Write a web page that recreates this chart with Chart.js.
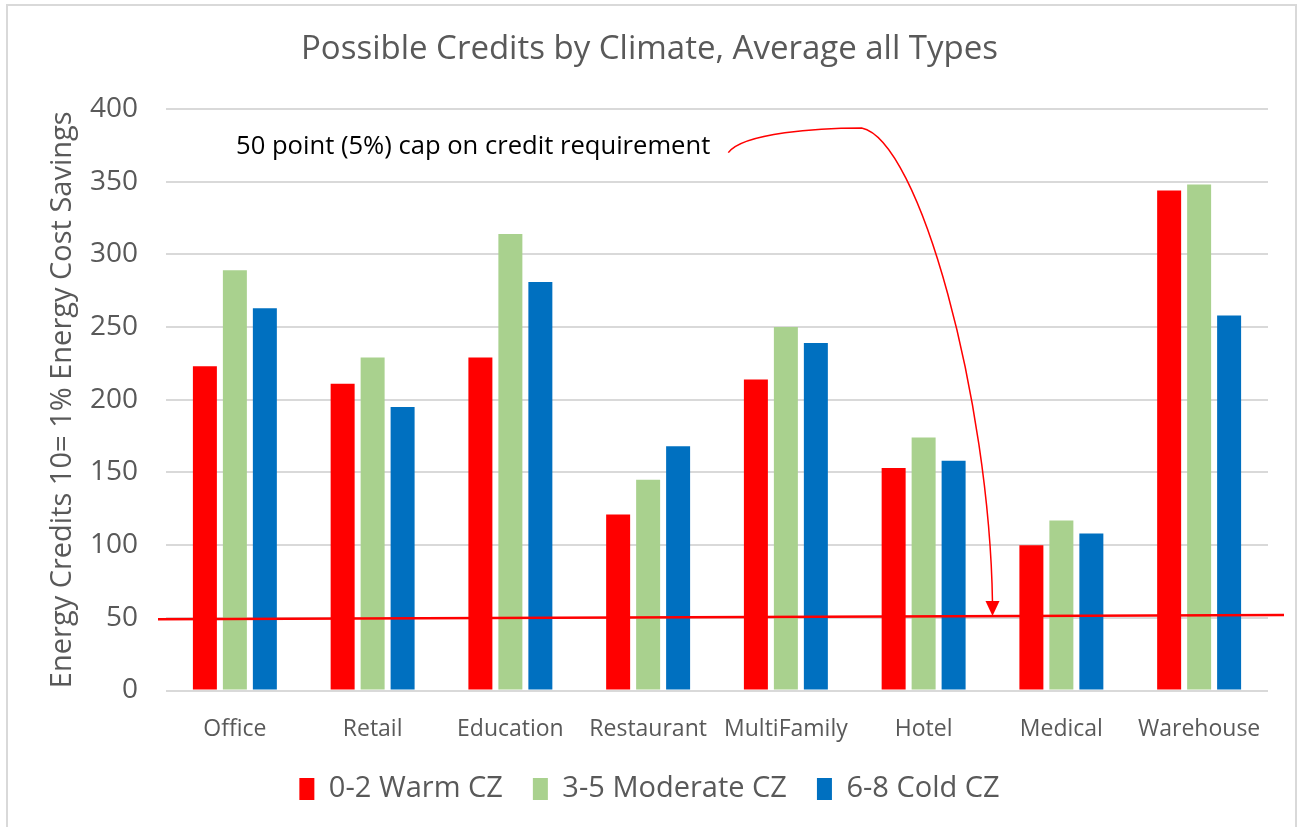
<!DOCTYPE html>
<html><head><meta charset="utf-8">
<script src="https://cdn.jsdelivr.net/npm/chart.js@4.4.0/dist/chart.umd.min.js"></script>
<style>
html,body{margin:0;padding:0;background:#fff;overflow:hidden;}
#wrap{position:absolute;left:0;top:0;width:1299px;height:827px;}
#frame{position:absolute;left:6px;top:4px;width:1287px;height:840px;border:2px solid #d9d9d9;pointer-events:none;}
</style></head><body>
<div id="wrap"><canvas id="c" width="1299" height="827"></canvas></div>
<div id="frame"></div>
<script>
const categories = ['Office','Retail','Education','Restaurant','MultiFamily','Hotel','Medical','Warehouse'];
const seriesLabels = ['0-2 Warm CZ','3-5 Moderate CZ','6-8 Cold CZ'];
const warmValues = [223, 211, 229, 121, 214, 153, 100, 344];
const moderateValues = [289, 229, 314, 145, 250, 174, 117, 348];
const coldValues = [263, 195, 281, 168, 239, 158, 108, 258];
const yTickValues = [0, 50, 100, 150, 200, 250, 300, 350, 400];
const capLineValues = [49, 52];
const capText = '50 point (5%) cap on credit requirement';
const titleText = 'Possible Credits by Climate, Average all Types';
const yTitleText = 'Energy Credits 10= 1% Energy Cost Savings';

const FONT = '"Open Sans", "Noto Sans", sans-serif';
const GRAY = '#595959';

const capPlugin = {
  id: 'capAnnotation',
  afterDatasetsDraw(chart) {
    const {ctx, chartArea: a, scales: {x, y}} = chart;
    ctx.save();
    // hand-drawn cap line
    const x0 = a.left - 8, x1 = a.right + 16;
    const y0 = y.getPixelForValue(capLineValues[0]);
    const y1 = y.getPixelForValue(capLineValues[1]);
    ctx.strokeStyle = '#FF0000';
    ctx.lineWidth = 2.5;
    ctx.beginPath(); ctx.moveTo(x0, y0); ctx.lineTo(x1, y1); ctx.stroke();
    // annotation text
    ctx.font = '25.6px ' + FONT;
    ctx.fillStyle = '#000000';
    ctx.textBaseline = 'middle';
    ctx.textAlign = 'left';
    const tx = a.left + 70, ty = y.getPixelForValue(374);
    ctx.fillText(capText, tx, ty);
    const tw = ctx.measureText(capText).width;
    // arrow
    const sx = tx + tw + 18, sy = y.getPixelForValue(370);
    const px = x.getPixelForValue(4.55), py = y.getPixelForValue(387);
    const tipX = x.getPixelForValue(5.5);
    const tipY = y0 + (y1 - y0) * (tipX - x0) / (x1 - x0);
    ctx.lineWidth = 1.5;
    ctx.beginPath();
    ctx.moveTo(sx, sy);
    ctx.bezierCurveTo(sx + 15, sy - 20, px - 42, py, px, py);
    ctx.bezierCurveTo(px + 58, py + 12, tipX - 3, y.getPixelForValue(200), tipX, tipY - 13);
    ctx.stroke();
    ctx.fillStyle = '#FF0000';
    ctx.beginPath();
    ctx.moveTo(tipX - 7, tipY - 15); ctx.lineTo(tipX + 7, tipY - 15); ctx.lineTo(tipX, tipY); ctx.closePath();
    ctx.fill();
    ctx.restore();
  }
};

new Chart(document.getElementById('c'), {
  type: 'bar',
  data: {
    labels: categories,
    datasets: [
      {label: seriesLabels[0], data: warmValues, backgroundColor: '#FF0000'},
      {label: seriesLabels[1], data: moderateValues, backgroundColor: '#A9D18E'},
      {label: seriesLabels[2], data: coldValues, backgroundColor: '#0070C0'}
    ]
  },
  options: {
    responsive: false,
    animation: false,
    devicePixelRatio: 1,
    categoryPercentage: 0.653,
    barPercentage: 0.8,
    layout: {padding: {left: 0, right: 0, top: 0, bottom: 13.5}},
    plugins: {
      title: {display: true, text: titleText, color: GRAY, font: {family: FONT, size: 33, weight: 'normal'}, padding: {top: 30, bottom: 39.4}},
      legend: {position: 'bottom', labels: {color: GRAY, font: {family: FONT, size: 29}, boxWidth: 15, boxHeight: 22, padding: 30}},
      tooltip: {enabled: false}
    },
    scales: {
      x: {
        afterFit: s => { s.height = 54; },
        grid: {display: false, drawTicks: false},
        border: {display: false},
        ticks: {color: GRAY, font: {family: FONT, size: 23}, padding: 25, maxRotation: 0, autoSkip: false}
      },
      y: {
        min: 0, max: 400,
        afterBuildTicks: s => { s.ticks = yTickValues.map(v => ({value: v})); },
        afterFit: s => { s.width = 166; },
        grid: {color: '#D9D9D9', lineWidth: 2, drawTicks: false},
        border: {display: false},
        ticks: {color: GRAY, font: {family: FONT, size: 28}, padding: 28},
        title: {display: true, text: yTitleText, color: GRAY, font: {family: FONT, size: 29}, padding: {top: 45, bottom: 0}}
      },
      rightSpace: {
        type: 'linear', position: 'right', display: true,
        afterFit: s => { s.width = 31; },
        grid: {display: false, drawTicks: false},
        border: {display: false},
        ticks: {display: false}
      }
    }
  },
  plugins: [capPlugin]
});
</script>
</body></html>
